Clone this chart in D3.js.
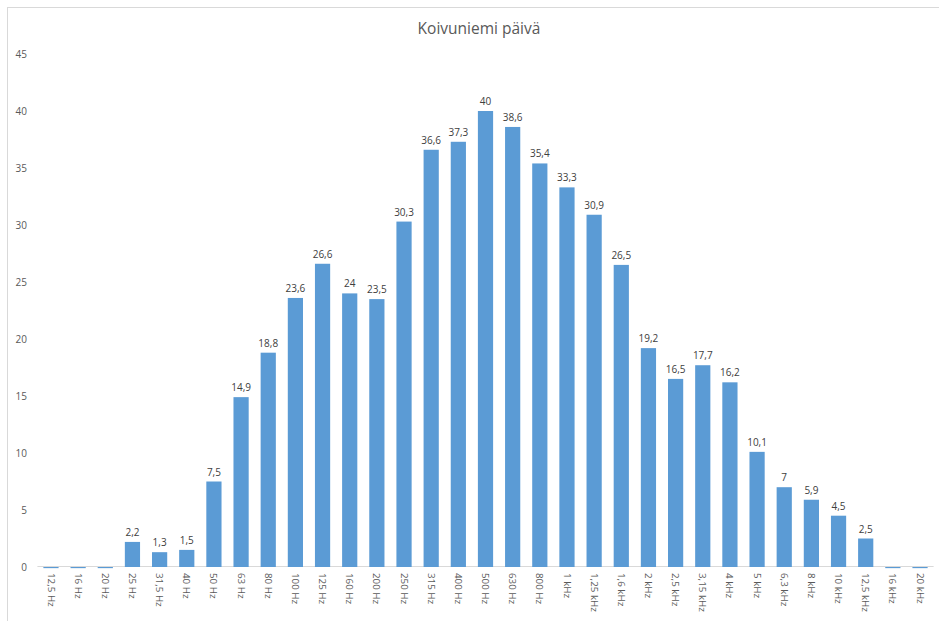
<!DOCTYPE html>
<html><head><meta charset="utf-8">
<script src="https://cdn.jsdelivr.net/npm/d3@7/dist/d3.min.js"></script>
<style>body{margin:0;background:#fff;}svg{display:block;}</style>
</head><body>
<svg id="chart" width="939" height="621"></svg>
<script>
const title = "Koivuniemi päivä";
const categories = ["12,5 Hz","16 Hz","20 Hz","25 Hz","31,5 Hz","40 Hz","50 Hz","63 Hz","80 Hz","100 Hz","125 Hz","160 Hz","200 Hz","250 Hz","315 Hz","400 Hz","500 Hz","630 Hz","800 Hz","1 kHz","1,25 kHz","1,6 kHz","2 kHz","2,5 kHz","3,15 kHz","4 kHz","5 kHz","6,3 kHz","8 kHz","10 kHz","12,5 kHz","16 kHz","20 kHz"];
const values = [-0.1,-0.1,-0.1,2.2,1.3,1.5,7.5,14.9,18.8,23.6,26.6,24,23.5,30.3,36.6,37.3,40,38.6,35.4,33.3,30.9,26.5,19.2,16.5,17.7,16.2,10.1,7,5.9,4.5,2.5,-0.1,-0.1];
const yTicks = [0,5,10,15,20,25,30,35,40,45];

const svg = d3.select("#chart");
const font = "'Open Sans', 'Segoe UI', sans-serif";
const plotLeft = 37.4, plotRight = 933.6, plotTop = 54, plotBottom = 567;

svg.append("rect").attr("x",7.5).attr("y",7.5).attr("width",960).attr("height",660)
  .attr("fill","none").attr("stroke","#d9d9d9").attr("stroke-width",1);

svg.append("text").attr("x",479).attr("y",34).attr("text-anchor","middle")
  .attr("font-family",font).attr("font-size",15.5).attr("fill","#595959").text(title);

const x = d3.scaleBand().domain(categories).range([plotLeft,plotRight]).paddingInner(0.44).paddingOuter(0.22);
const y = d3.scaleLinear().domain([0,45]).range([plotBottom,plotTop]);

// y axis labels
const yAxis = d3.axisLeft(y).tickValues(yTicks).tickSize(0).tickPadding(0).tickFormat(d=>d);
const ya = svg.append("g").attr("transform","translate(27,0)").call(yAxis);
ya.select(".domain").remove();
ya.selectAll("text").attr("font-family",font).attr("font-size",10).attr("fill","#595959");

// x axis line
svg.append("line").attr("x1",plotLeft).attr("x2",plotRight).attr("y1",plotBottom-0.5).attr("y2",plotBottom-0.5)
  .attr("stroke","#d9d9d9").attr("stroke-width",1);

// bars
svg.append("g").selectAll("rect").data(values).join("rect")
  .attr("x",(d,i)=>x(categories[i]))
  .attr("width",x.bandwidth())
  .attr("y",d=>Math.min(y(d),y(0)))
  .attr("height",d=>Math.abs(y(d)-y(0)))
  .attr("fill","#5B9BD5");

// x labels
const xAxis = d3.axisBottom(x).tickSize(0).tickPadding(0);
const xa = svg.append("g").attr("transform",`translate(0,${plotBottom})`).call(xAxis);
xa.select(".domain").remove();
xa.selectAll("text").attr("font-family",font).attr("font-size",9.8).attr("fill","#595959")
  .attr("text-anchor","start").attr("dy","0.35em")
  .attr("transform","translate(0,6) rotate(90)").attr("y",0).attr("x",0);

// data labels
svg.append("g").selectAll("text").data(values.map((v,i)=>({v,c:categories[i]})).filter(d=>d.v>0)).join("text")
  .attr("x",d=>x(d.c)+x.bandwidth()/2)
  .attr("y",d=>y(d.v)-6)
  .attr("text-anchor","middle")
  .attr("font-family",font).attr("font-size",10).attr("fill","#404040")
  .text(d=>String(d.v).replace(".",","));
</script>
</body></html>
